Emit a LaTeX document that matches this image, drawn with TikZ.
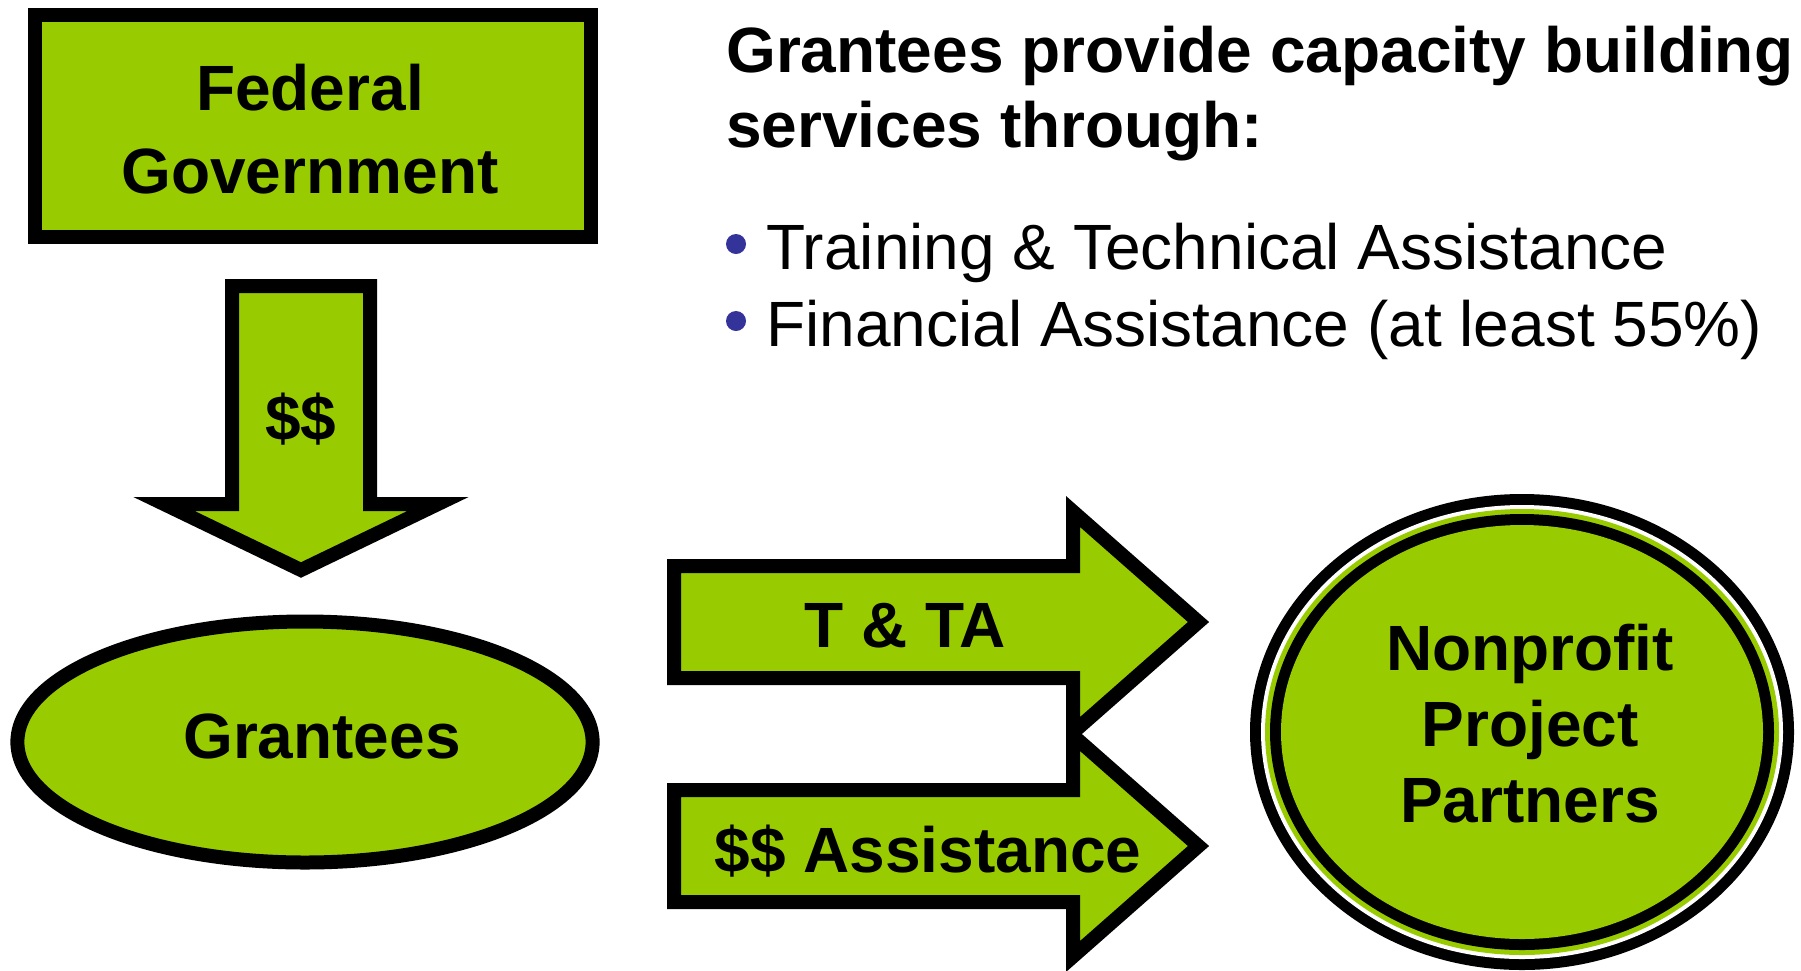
\documentclass[tikz,border=0pt]{standalone}
\usepackage{fontspec}
\setmainfont{Liberation Sans}
\usetikzlibrary{shapes.geometric}
\definecolor{lime}{HTML}{99CC00}
\definecolor{bulletblue}{HTML}{333399}
\begin{document}
\begin{tikzpicture}[x=1pt,y=-1pt,
  shapeline/.style={draw=black, line width=14pt, fill=lime, line join=miter},
  bigbold/.style={font=\fontsize{64}{77}\selectfont\bfseries, inner sep=0pt},
  plaintext/.style={font=\fontsize{64}{77}\selectfont, inner sep=0pt},
  dot/.style={circle, fill=bulletblue, minimum size=20pt, inner sep=0pt}]
\useasboundingbox[fill=white] (0,0) rectangle (1801,970);

% Federal Government box
\node[shapeline, rectangle, minimum width=556.8pt, minimum height=221.5pt, inner sep=0pt] (fed) at (313,125.75) {};
\node[bigbold, anchor=base, align=center, font=\fontsize{64}{83}\selectfont\bfseries] (fedtext) at (310,193) {Federal\\Government};

% down arrow
\draw[shapeline] (232,286) -- (370,286) -- (370,504) -- (438,504) -- (301,570) -- (164,504) -- (232,504) -- cycle;
\node[bigbold, anchor=base] (dollars) at (301,440) {\$\$};

% Grantees
\node[shapeline, ellipse, minimum width=575.2pt, minimum height=241pt, inner sep=0pt] (grantees) at (305,742) {};
\node[bigbold, anchor=base] (granteestext) at (322,758) {Grantees};

% right arrows
\draw[shapeline] (674,566) -- (1073,566) -- (1073,511.5) -- (1198.5,622) -- (1073,732.5) -- (1073,678) -- (674,678) -- cycle;
\draw[shapeline] (674,790) -- (1073,790) -- (1073,735.5) -- (1198.5,846) -- (1073,956.5) -- (1073,902) -- (674,902) -- cycle;
\node[bigbold, anchor=base] (tta) at (905,647) {T \& TA};
\node[bigbold, anchor=base] (assist) at (928,872) {\$\$ Assistance};

% Nonprofit partners circle
\node[ellipse, fill=black, minimum width=544pt, minimum height=476pt, inner sep=0pt] (npp) at (1522,732) {};
\fill[white] (npp.center) ellipse [x radius=261pt, y radius=227pt];
\fill[lime] (npp.center) ellipse [x radius=257pt, y radius=223pt];
\fill[black] (npp.center) ellipse [x radius=252pt, y radius=218pt];
\fill[lime] (npp.center) ellipse [x radius=241pt, y radius=207pt];
\node[bigbold, anchor=base, align=center, font=\fontsize{64}{76}\selectfont\bfseries] (npptext) at (1530,822) {Nonprofit\\Project\\Partners};

% heading and bullets
\node[bigbold, anchor=base west, align=left, font=\fontsize{64}{75}\selectfont\bfseries] (heading) at (726,147) {Grantees provide capacity building\\services through:};
\node[dot] (b1) at (736,244) {};
\node[dot] (b2) at (736,321) {};
\node[plaintext, anchor=base west] (item1) at (766,269) {Training \& Technical Assistance};
\node[plaintext, anchor=base west] (item2) at (766,346) {Financial Assistance (at least 55\%)};
\end{tikzpicture}
\end{document}
